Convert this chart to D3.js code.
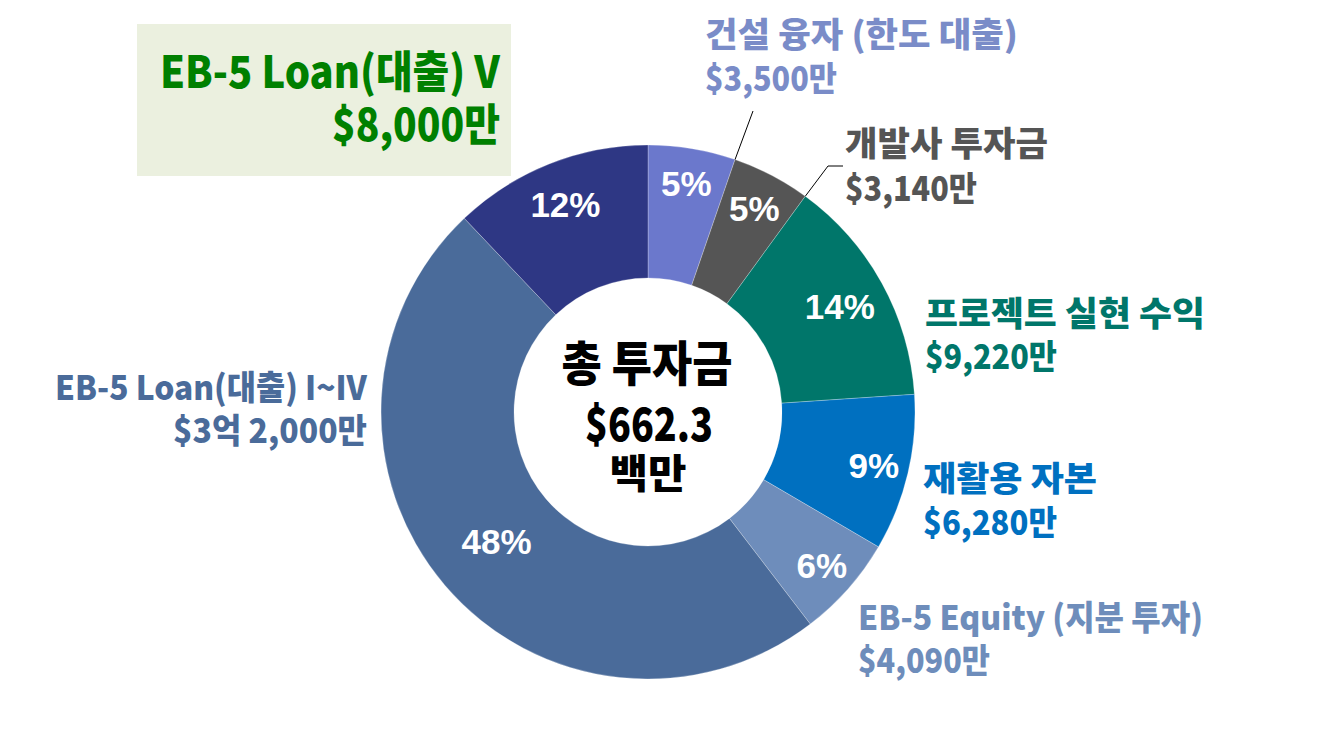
<!DOCTYPE html>
<html><head><meta charset="utf-8">
<script src="https://cdn.jsdelivr.net/npm/d3@7"></script>
<style>html,body{margin:0;padding:0;background:#fff;}svg{display:block;}</style>
</head><body>
<svg id="chart" width="1342" height="756"></svg>
<script>
// ---- data ----
const categories = ["건설 융자 (한도 대출)", "개발사 투자금", "프로젝트 실현 수익", "재활용 자본", "EB-5 Equity (지분 투자)", "EB-5 Loan(대출) I~IV", "EB-5 Loan(대출) V"];
const amounts = [3500, 3140, 9220, 6280, 4090, 32000, 8000]; // 만 달러
const amountLabels = ["$3,500만", "$3,140만", "$9,220만", "$6,280만", "$4,090만", "$3억 2,000만", "$8,000만"];
const percentLabels = ["5%", "5%", "14%", "9%", "6%", "48%", "12%"];
const centerLines = ["총 투자금", "$662.3", "백만"];

// ---- styles ----
const sliceColors = ["#6B78CC", "#555555", "#00766A", "#0070C0", "#6E8DBB", "#4A6B9A", "#2E3784"];
const labelColors = ["#7A8CC8", "#555555", "#00766A", "#0070C0", "#6E8DBB", "#4A6B9A", "#008000"];
const pctRadius = [232, 230, 219, 232, 232, 199, 223];
const FONT = "'Noto Sans CJK KR', 'Noto Sans', sans-serif";

// label layout: [x, baseline1, width1, baseline2, width2, anchor, fontSize]
const labelLayout = [
  [705, 47, 313, 91, 132, "start", 34],
  [845, 156, 203, 201, 132, "start", 34],
  [925, 326, 280, 369, 132, "start", 34],
  [923, 491, 174, 535, 134, "start", 34],
  [858, 630, 345, 673, 132, "start", 34],
  [367, 400, 312, 443, 194, "end", 34],
  [500, 88, 340, 141, 168, "end", 44]
];

const svg = d3.select("#chart");
const cx = 648, cy = 412, rOuter = 267, rInner = 134;

const pie = d3.pie().sort(null).value(d => d).startAngle(0).endAngle(2 * Math.PI);
const arcs = pie(amounts);
const arc = d3.arc().innerRadius(rInner).outerRadius(rOuter);

// box behind EB-5 Loan V label
svg.append("rect").attr("x", 137).attr("y", 24).attr("width", 374).attr("height", 152).attr("fill", "#EBF0DF");

const g = svg.append("g").attr("transform", `translate(${cx},${cy})`);
g.selectAll("path.slice").data(arcs).join("path")
  .attr("class", "slice")
  .attr("d", arc)
  .attr("fill", (d, i) => sliceColors[i])
  .attr("stroke", "#ffffff").attr("stroke-opacity", 0.35).attr("stroke-width", 0.75);

// percent labels
g.selectAll("text.pct").data(arcs).join("text")
  .attr("class", "pct")
  .attr("x", (d, i) => d3.arc().innerRadius(pctRadius[i]).outerRadius(pctRadius[i]).centroid(d)[0])
  .attr("y", (d, i) => d3.arc().innerRadius(pctRadius[i]).outerRadius(pctRadius[i]).centroid(d)[1])
  .attr("text-anchor", "middle").attr("dominant-baseline", "central")
  .attr("font-family", "'Liberation Sans', Arial, sans-serif").attr("font-weight", "bold")
  .attr("font-size", 35).attr("fill", "#fff")
  .text((d, i) => percentLabels[i]);

// helper for condensed text
function condText(parent, txt, x, y, w, fs, color, anchor, weight) {
  const sx = anchor === "end" ? x - w : (anchor === "middle" ? x - w / 2 : x);
  parent.append("text")
    .attr("x", sx).attr("y", y)
    .attr("font-family", FONT).attr("font-weight", weight || 900)
    .attr("font-size", fs).attr("fill", color)
    .attr("textLength", w).attr("lengthAdjust", "spacingAndGlyphs")
    .text(txt);
}

// outside labels
categories.forEach((c, i) => {
  const L = labelLayout[i];
  condText(svg, c, L[0], L[1], L[2], L[6], labelColors[i], L[5], 800);
  condText(svg, amountLabels[i], L[0], L[3], L[4], L[6], labelColors[i], L[5], 800);
});

// leader lines (to slice end edge)
function edgePt(angle, r) { return [cx + r * Math.sin(angle), cy - r * Math.cos(angle)]; }
const p0 = edgePt(arcs[0].endAngle, rOuter);
svg.append("path").attr("d", d3.line()([[753, 111], p0])).attr("stroke", "#000").attr("stroke-width", 1).attr("fill", "none");
const p1 = edgePt(arcs[1].endAngle, rOuter);
svg.append("path").attr("d", d3.line()([[843, 166], [828, 166], p1])).attr("stroke", "#000").attr("stroke-width", 1).attr("fill", "none");

// center text
condText(svg, centerLines[0], 647, 381, 171, 48, "#000", "middle", 900);
condText(svg, centerLines[1], 649, 441, 128, 46, "#000", "middle", 900);
condText(svg, centerLines[2], 648, 488, 77, 40, "#000", "middle", 900);
</script>
</body></html>
